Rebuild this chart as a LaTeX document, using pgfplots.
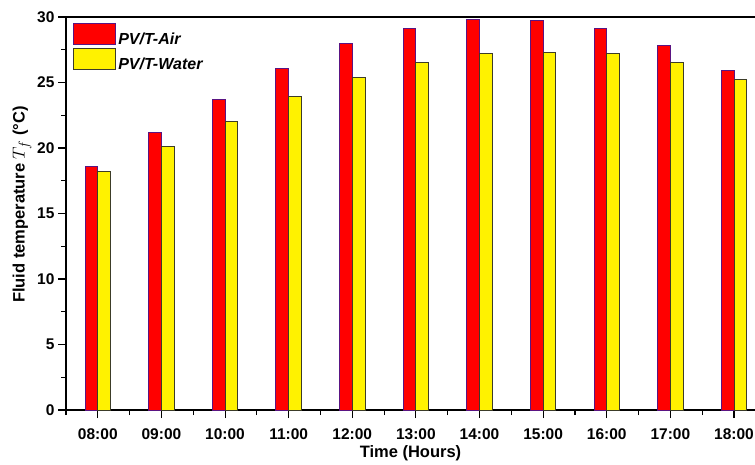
\documentclass[border=0pt]{standalone}
\usepackage{pgfplots}
\pgfplotsset{compat=1.18}
\usepackage{fontspec}
\setmainfont{Liberation Sans}
\definecolor{airborder}{RGB}{90,20,130}
\definecolor{waterborder}{RGB}{60,60,40}
\pgfplotstableread{
x air water
0 18.6 18.2
1 21.2 20.1
2 23.7 22.0
3 26.1 23.9
4 28.0 25.4
5 29.1 26.5
6 29.8 27.2
7 29.7 27.3
8 29.1 27.2
9 27.8 26.5
10 25.9 25.2
}\datatable
\begin{document}
\begin{tikzpicture}
\begin{axis}[
  name=ax,
  scale only axis,
  width=689pt, height=393pt,
  xmin=-0.5, xmax=10.33,
  ymin=0, ymax=30,
  axis x line*=bottom, axis y line*=left,
  axis line style={line width=1.2pt},
  tick align=outside,
  major tick length=8pt, minor tick length=5pt,
  every tick/.style={black, line width=1.1pt},
  xtick={0,...,10},
  xticklabels={08:00,09:00,10:00,11:00,12:00,13:00,14:00,15:00,16:00,17:00,18:00},
  minor xtick={-0.5,0.5,...,9.5},
  ytick={0,5,...,30},
  minor ytick={2.5,7.5,...,27.5},
  /pgf/number format/assume math mode=true,
  ticklabel style={font=\bfseries\fontsize{15.5}{15.5}\selectfont},
  xticklabel style={yshift=-7pt},
  xlabel={Time (Hours)},
  ylabel={Fluid temperature {\fontsize{19}{19}\selectfont$T_f$} (°C)},
  label style={font=\bfseries\fontsize{16.5}{16.5}\selectfont},
  xlabel style={yshift=1pt},
  ylabel style={yshift=-1pt, xshift=9pt},
  ybar, bar width=0.2,
  clip=false,
  legend cell align=left,
  legend style={at={(rel axis cs:0.009,0.987)}, anchor=north west, draw=none, fill=white,
    font=\bfseries\itshape\fontsize{16}{16}\selectfont, row sep=0pt, inner sep=1pt},
  legend image code/.code={\draw[#1] (0pt,-5pt) rectangle (42pt,16pt);},
]
\addplot[fill=red, draw=airborder, line width=0.9pt, bar shift=-0.1] table[x=x,y=air]{\datatable};
\addlegendentry{PV/T-Air}
\addplot[fill=yellow, draw=waterborder, line width=0.9pt, bar shift=0.1] table[x=x,y=water]{\datatable};
\addlegendentry{PV/T-Water}
\draw[line width=2.2pt] (rel axis cs:0,1) -- (rel axis cs:1,1);
\end{axis}
\pgfresetboundingbox
\path[use as bounding box] ([shift={(-66pt,-54pt)}]ax.south west) rectangle ([shift={(0pt,17pt)}]ax.north east);
\end{tikzpicture}
\end{document}
